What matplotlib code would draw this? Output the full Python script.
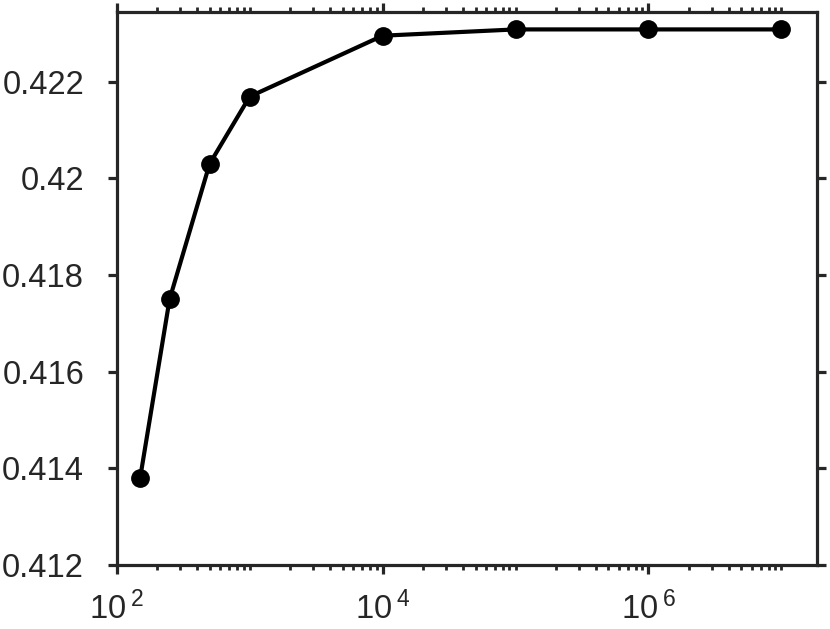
import math
import matplotlib
matplotlib.use('Agg')
import matplotlib.pyplot as plt
from matplotlib.ticker import FixedLocator, LogLocator, NullFormatter, FuncFormatter

# data
n_samples = [150, 250, 500, 1000, 1e4, 1e5, 1e6, 1e7]
score = [0.41380, 0.41750, 0.42030, 0.42169, 0.42295, 0.42308, 0.42308, 0.42308]

x_major = [1e2, 1e4, 1e6]
y_ticks = [0.412, 0.414, 0.416, 0.418, 0.420, 0.422]

plt.rcParams['font.family'] = ['Liberation Sans', 'DejaVu Sans']
plt.rcParams['mathtext.fontset'] = 'custom'
plt.rcParams['mathtext.rm'] = 'Liberation Sans'
plt.rcParams['mathtext.it'] = 'Liberation Sans'

axis_col = '#262626'

fig = plt.figure(figsize=(8.3, 6.29), dpi=100)
ax = fig.add_axes([0.1406, 0.1016, 0.8437, 0.8793])

ax.plot(n_samples, score, color='black', linewidth=3.0, marker='o',
        markersize=12.5, markerfacecolor='black', markeredgecolor='black')

ax.set_xscale('log')
ax.set_xlim(1e2, 1.85e7)
ax.set_ylim(0.412, 0.42344)

ax.xaxis.set_major_locator(FixedLocator(x_major))
ax.xaxis.set_minor_locator(LogLocator(base=10, subs=range(1, 10), numticks=20))
ax.xaxis.set_minor_formatter(NullFormatter())
ax.xaxis.set_major_formatter(FuncFormatter(
    lambda v, p: r'$\mathregular{10^{\;%d}}$' % round(math.log10(v))))

ax.yaxis.set_major_locator(FixedLocator(y_ticks))
ax.yaxis.set_major_formatter(FuncFormatter(lambda v, p: ('%.3f' % v).rstrip('0')))

for s in ax.spines.values():
    s.set_linewidth(2.3)
    s.set_color(axis_col)

ax.tick_params(which='major', direction='out', length=6.5, width=2.3,
               color=axis_col, labelcolor=axis_col, labelsize=23.5,
               top=True, right=True)
ax.tick_params(which='minor', direction='out', length=3.5, width=2.0,
               color=axis_col, top=True)
ax.tick_params(axis='y', which='major', pad=17)
ax.tick_params(axis='x', which='major', pad=12.5)

plt.savefig('out.png', dpi=100)
plt.close()
